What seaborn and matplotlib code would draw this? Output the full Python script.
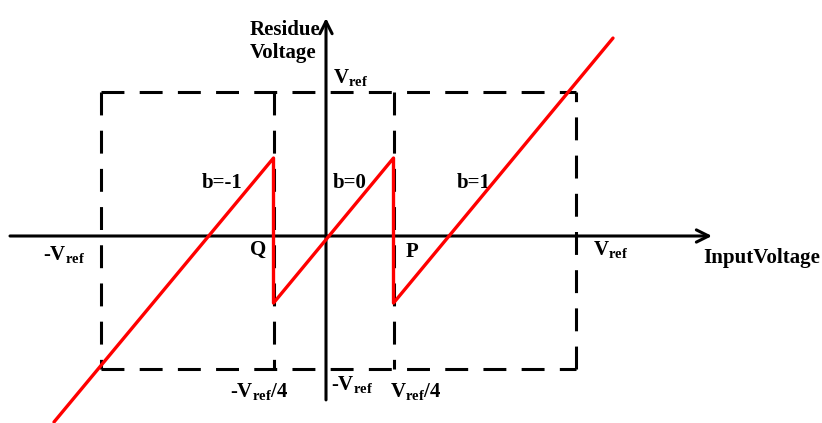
import matplotlib
matplotlib.use("Agg")
import matplotlib.pyplot as plt
import seaborn as sns
import pandas as pd

# Residue transfer characteristic of a 1.5-bit pipeline stage (Vref = 1)
input_v = [-1.088, -0.21, -0.21, 0.27, 0.27, 1.148]
residue_v = [-1.329, 0.557, -0.479, 0.557, -0.479, 1.414]

# Reference levels drawn as the dashed frame
frame_left, frame_right = -0.9, 1.0
frame_bottom, frame_top = -0.95, 1.029
thresholds = [-0.21, 0.27]

sns.set_theme(style="white")
plt.rcParams["font.family"] = ["Liberation Serif", "DejaVu Serif"]
plt.rcParams["mathtext.fontset"] = "custom"
plt.rcParams["mathtext.rm"] = "Liberation Serif"
plt.rcParams["mathtext.bf"] = "Liberation Serif:bold"
plt.rcParams["mathtext.it"] = "Liberation Serif:italic"

fig = plt.figure(figsize=(8.22, 4.23), dpi=100)
ax = fig.add_axes([0, 0, 1, 1])

# dashed frame
dash = dict(color="black", lw=2.2, dashes=(7.5, 5), solid_capstyle="butt",
            dash_capstyle="butt")
ax.plot([frame_left, frame_right], [frame_top, frame_top], **dash)
ax.plot([frame_left, frame_right], [frame_bottom, frame_bottom], **dash)
ax.plot([frame_left, frame_left], [frame_top, frame_bottom], **dash)
ax.plot([frame_right, frame_right], [frame_bottom, frame_top], **dash)
for t in thresholds:
    ax.plot([t, t], [frame_top, frame_bottom], **dash)

# coordinate axes with arrowheads
arrow = dict(arrowstyle="->", lw=2.2, color="black", mutation_scale=22,
             shrinkA=0, shrinkB=0)
ax.annotate("", xy=(1.544, 0), xytext=(-1.264, 0), arrowprops=arrow)
ax.annotate("", xy=(0, 1.557), xytext=(0, -1.171), arrowprops=arrow)

# residue curve
df = pd.DataFrame({"Input": input_v, "Residue": residue_v})
sns.lineplot(data=df, x="Input", y="Residue", sort=False, estimator=None,
             color="#ff0000", lw=2.4, ax=ax, zorder=5)
ax.set_xlim(-1.304, 1.984)
ax.set_ylim(-1.336, 1.686)
ax.axis("off")

fs = 15
vref = r"$\mathbf{V}_{\mathbf{ref}}$"
txt = dict(fontsize=fs, fontweight="bold", color="black")

ax.text(-0.304, 1.54, "Residue\nVoltage", ha="left", va="top",
        linespacing=1.15, **txt)
ax.text(0.1, 1.093, vref, ha="center", va="baseline", **txt)
ax.text(-0.416, 0.343, "b=-1", ha="center", va="baseline", **txt)
ax.text(0.096, 0.343, "b=0", ha="center", va="baseline", **txt)
ax.text(0.592, 0.343, "b=1", ha="center", va="baseline", **txt)
ax.text(-1.048, -0.171, "-" + vref, ha="center", va="baseline", **txt)
ax.text(-0.272, -0.136, "Q", ha="center", va="baseline", **txt)
ax.text(0.344, -0.15, "P", ha="center", va="baseline", **txt)
ax.text(1.14, -0.136, vref, ha="center", va="baseline", **txt)
ax.text(1.508, -0.193, "InputVoltage", ha="left", va="baseline", **txt)
ax.text(-0.268, -1.15, "-" + vref + "/4", ha="center", va="baseline", **txt)
ax.text(0.104, -1.1, "-" + vref, ha="center", va="baseline", **txt)
ax.text(0.36, -1.15, vref + "/4", ha="center", va="baseline", **txt)

fig.savefig("out.png", dpi=100)
